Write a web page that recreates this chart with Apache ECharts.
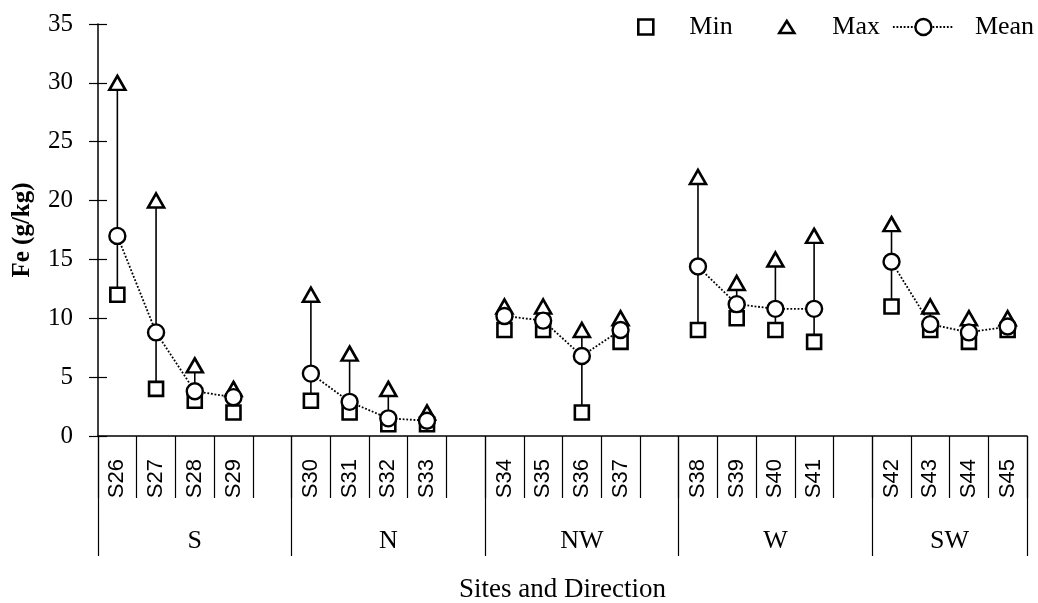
<!DOCTYPE html>
<html><head><meta charset="utf-8">
<script src="https://cdn.jsdelivr.net/npm/echarts@6/dist/echarts.min.js"></script>
<style>html,body{margin:0;padding:0;background:#fff}#c{width:1038px;height:603px}</style>
</head><body><div id="c"></div>
<script>
// ---- data ----
const sites = ['S26','S27','S28','S29','S30','S31','S32','S33','S34','S35','S36','S37','S38','S39','S40','S41','S42','S43','S44','S45'];
const groups = ['S','N','NW','W','SW'];
const sitesPerGroup = 4;
const minVals  = [12, 4, 3, 2,   3, 2, 1, 1,   9, 9, 2, 8,   9, 10, 9, 8,   11, 9, 8, 9];
const maxVals  = [30, 20, 6, 4,  12, 7, 4, 2,  11, 11, 9, 10, 22, 13, 15, 17, 18, 11, 10, 10];
const meanVals = [17, 8.8, 3.8, 3.3, 5.3, 2.9, 1.5, 1.3, 10.2, 9.8, 6.8, 9.0, 14.4, 11.2, 10.8, 10.8, 14.8, 9.5, 8.8, 9.3];
const yMin = 0, yMax = 35, yStep = 5;

// ---- build slots (one empty slot between direction groups) ----
const slotLabels = [], slotSite = [];
const groupBounds = [0], groupCenters = [];
groups.forEach((g, gi) => {
  const start = slotLabels.length;
  for (let k = 0; k < sitesPerGroup; k++) { slotLabels.push(sites[gi * sitesPerGroup + k]); slotSite.push(gi * sitesPerGroup + k); }
  if (gi < groups.length - 1) { slotLabels.push(''); slotSite.push(-1); }
  groupCenters.push((start + slotLabels.length) / 2);
  groupBounds.push(slotLabels.length);
});
const pick = arr => slotSite.map(i => i < 0 ? null : arr[i]);
const rangeData = [];
slotSite.forEach((i, s) => { if (i >= 0) rangeData.push([s, minVals[i], maxVals[i]]); });

const SERIF = 'Liberation Serif';
const SANS = 'Liberation Sans';
const K = '#000';
const markerStyle = { color: '#fff', borderColor: K, borderWidth: 2.6, opacity: 1 };

const chart = echarts.init(document.getElementById('c'), null, { renderer: 'canvas' });
chart.setOption({
  animation: false,
  backgroundColor: '#fff',
  grid: { left: 98, right: 11, top: 24, bottom: 167, containLabel: false, outerBoundsMode: 'none' },
  legend: [
    { data: ['Min'], left: 632, top: 9, selectedMode: false, icon: 'rect', itemWidth: 15, itemHeight: 15,
      itemStyle: markerStyle, textStyle: { fontFamily: SERIF, fontSize: 26, color: K, padding: [0, 0, 0, 31] } },
    { data: ['Max'], left: 773, top: 9, selectedMode: false, icon: 'triangle', itemWidth: 15, itemHeight: 12,
      itemStyle: markerStyle, textStyle: { fontFamily: SERIF, fontSize: 26, color: K, padding: [0, 0, 0, 33] } },
    { data: ['Mean'], left: 887, top: 9, selectedMode: false, itemWidth: 61, itemHeight: 20,
      itemStyle: { color: '#fff', borderColor: K, borderWidth: 2.4 },
      lineStyle: { color: K, width: 1.8, type: 'dotted' },
      textStyle: { fontFamily: SERIF, fontSize: 26, color: K, padding: [0, 0, 0, 16] } }
  ],
  xAxis: [
    { type: 'category', data: slotLabels, boundaryGap: true,
      axisLine: { lineStyle: { color: K, width: 1.5 } },
      axisTick: { show: true, interval: 0, length: 62, lineStyle: { color: K, width: 1.2 } },
      axisLabel: { interval: 0, rotate: 90, margin: 23, fontFamily: SANS, fontSize: 22, color: K },
      splitLine: { show: false } },
    { type: 'value', min: 0, max: slotLabels.length, position: 'bottom',
      axisLine: { show: false }, splitLine: { show: false },
      axisTick: { show: true, customValues: groupBounds, length: 120, lineStyle: { color: K, width: 1.2 } },
      axisLabel: { customValues: groupCenters, formatter: v => groups[groupCenters.indexOf(v)] || '',
        margin: 92, fontFamily: SERIF, fontSize: 26, color: K },
      name: 'Sites and Direction', nameLocation: 'middle', nameGap: 140,
      nameTextStyle: { fontFamily: SERIF, fontSize: 27, color: K } }
  ],
  yAxis: [
    { type: 'value', min: yMin, max: yMax, interval: yStep,
      axisLine: { show: true, lineStyle: { color: K, width: 1.5 } },
      axisTick: { show: true, length: 9, lineStyle: { color: K, width: 1.2 } },
      axisLabel: { margin: 25, fontFamily: SERIF, fontSize: 25, color: K },
      splitLine: { show: false },
      name: 'Fe (g/kg)', nameLocation: 'middle', nameGap: 63, nameRotate: 90,
      nameTextStyle: { fontFamily: SERIF, fontSize: 25, fontWeight: 'bold', color: K } },
    { type: 'value', min: yMin, max: yMax, interval: yStep, position: 'left',
      axisLine: { show: false }, axisLabel: { show: false }, splitLine: { show: false },
      axisTick: { show: true, inside: true, length: 9, lineStyle: { color: K, width: 1.2 } } }
  ],
  series: [
    { type: 'custom', name: 'range', xAxisIndex: 0, yAxisIndex: 0, data: rangeData, silent: true, z: 1,
      encode: { x: 0, y: [1, 2] },
      renderItem: (params, api) => {
        const a = api.coord([api.value(0), api.value(1)]);
        const b = api.coord([api.value(0), api.value(2)]);
        return { type: 'line', shape: { x1: a[0], y1: a[1], x2: b[0], y2: b[1] }, style: { stroke: K, lineWidth: 1.6 } };
      } },
    { type: 'scatter', name: 'Min', data: pick(minVals), symbol: 'rect', symbolSize: 14,
      itemStyle: markerStyle, z: 3 },
    { type: 'scatter', name: 'Max', data: pick(maxVals), symbol: 'triangle', symbolSize: [16, 14],
      itemStyle: markerStyle, z: 4 },
    { type: 'line', name: 'Mean', data: pick(meanVals), connectNulls: false, showAllSymbol: true,
      symbol: 'circle', symbolSize: 16, itemStyle: { color: '#fff', borderColor: K, borderWidth: 2.4 },
      lineStyle: { color: K, width: 1.8, type: 'dotted' }, z: 5 }
  ]
});
</script></body></html>
